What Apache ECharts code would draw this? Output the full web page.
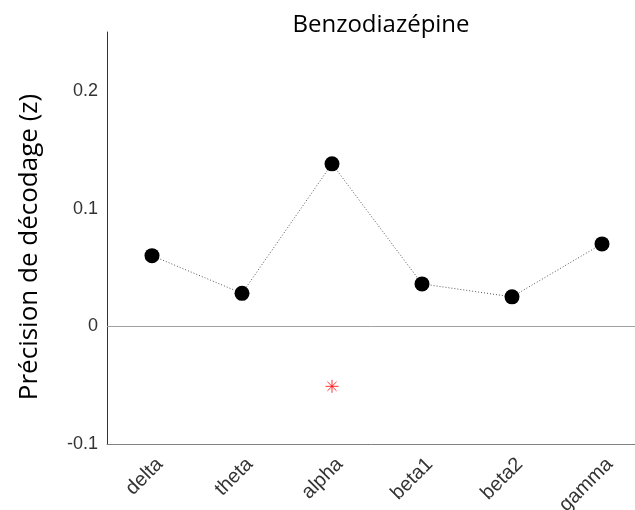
<!DOCTYPE html>
<html><head><meta charset="utf-8">
<script src="https://cdn.jsdelivr.net/npm/echarts@6/dist/echarts.min.js"></script>
<style>html,body{margin:0;padding:0;background:#fff}#c{width:635px;height:510px}</style>
</head><body><div id="c"></div>
<script>
var categories = ['delta', 'theta', 'alpha', 'beta1', 'beta2', 'gamma'];
var accuracy = [0.060, 0.028, 0.138, 0.036, 0.025, 0.070];
var significance = [null, null, -0.051, null, null, null];
var yTicks = [-0.1, 0, 0.1, 0.2];

var chart = echarts.init(document.getElementById('c'));
chart.setOption({
  animation: false,
  title: {
    text: 'Benzodiazépine', left: 376, top: 8, textAlign: 'center',
    textStyle: { fontFamily: 'Open Sans', fontSize: 24, fontWeight: 'normal', color: '#000' }
  },
  grid: { left: 107, width: 540, top: 32, bottom: 66, containLabel: false, outerBoundsMode: 'none' },
  xAxis: {
    type: 'category', data: categories, boundaryGap: true,
    axisLine: { onZero: false, lineStyle: { color: '#808080', width: 1 } },
    axisTick: { show: false },
    axisLabel: { rotate: 45, margin: 25, fontFamily: 'Liberation Sans', fontSize: 20, color: '#333', padding: [0, -11, 0, 0] }
  },
  yAxis: {
    type: 'value', min: -0.1, max: 0.25, interval: 0.1,
    name: 'Précision de décodage (z)', nameLocation: 'middle', nameGap: 64, nameRotate: 90,
    nameTextStyle: { fontFamily: 'Open Sans', fontSize: 26, color: '#000', padding: [0, 18, 0, 0] },
    axisLine: { show: true, lineStyle: { color: '#333', width: 1 } },
    axisTick: { show: false },
    splitLine: { show: false },
    axisLabel: { showMaxLabel: false, margin: 9, fontFamily: 'Liberation Sans', fontSize: 18, color: '#333',
      formatter: function (v) { var r = Math.round(v * 10) / 10; return yTicks.indexOf(r) >= 0 ? String(r) : ''; } }
  },
  series: [
    {
      type: 'line', data: accuracy, symbol: 'circle', symbolSize: 15,
      itemStyle: { color: '#000' },
      lineStyle: { color: '#555', width: 1, type: [1, 2] },
      markLine: { silent: true, symbol: 'none', label: { show: false },
        lineStyle: { color: '#a0a0a0', width: 1, type: 'solid' }, data: [{ yAxis: 0 }] },
      z: 3
    },
    {
      type: 'scatter', data: significance,
      symbol: 'path://M0,-1L0,1M-1,0L1,0M-0.7,-0.7L0.7,0.7M-0.7,0.7L0.7,-0.7',
      symbolSize: 13,
      itemStyle: { color: 'none', borderColor: '#ff0000', borderWidth: 1 }
    }
  ]
});
</script></body></html>
